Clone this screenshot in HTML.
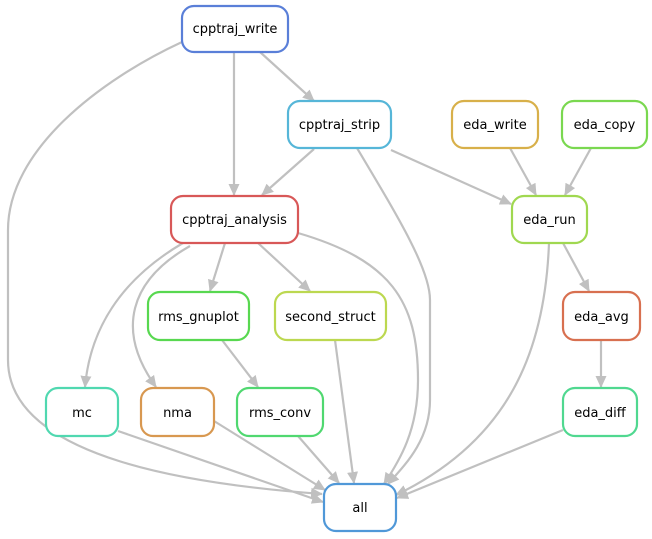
<!DOCTYPE html>
<html><head><style>html,body{margin:0;padding:0;background:#fff;width:652px;height:539px;overflow:hidden}</style></head>
<body>
<svg width="652" height="539" viewBox="0 0 652 539" xmlns="http://www.w3.org/2000/svg">
<defs><marker id="a" markerWidth="12" markerHeight="12" refX="11" refY="6" orient="auto" markerUnits="userSpaceOnUse"><path d="M0,0.5 L12,6 L0,11.5 z" fill="#c0c0c0"/></marker></defs>
<g fill="none" stroke="#c0c0c0" stroke-width="2.2" marker-end="url(#a)">
<path d="M182,42 C100,80 8,150 8,230 L8,360 C8,460 200,485 322,494"/>
<path d="M234,52 L234,195"/>
<path d="M260,52 L314,101"/>
<path d="M314,149 L262,195"/>
<path d="M357,148 C400,220 430,270 430,300 L430,400 C430,440 405,465 388,484"/>
<path d="M391,150 L511,204"/>
<path d="M510,148 L536,195"/>
<path d="M591,148 L565,195"/>
<path d="M225,243 L210,291"/>
<path d="M258,243 L310,291"/>
<path d="M183,243 C120,280 90,330 85,387"/>
<path d="M190,246 C130,280 115,330 156,387"/>
<path d="M298,233 C390,260 418,300 418,380 C418,430 400,460 384,484"/>
<path d="M222,340 L258,387"/>
<path d="M335,340 L354,483"/>
<path d="M563,243 L589,291"/>
<path d="M549,243 C545,350 510,440 396,495"/>
<path d="M601,340 L601,387"/>
<path d="M118,431 L323,502"/>
<path d="M214,421 L325,490"/>
<path d="M298,436 L339,483"/>
<path d="M563,430 L397,498"/>
</g>
<g fill="#fff" stroke-width="2.2" font-family="DejaVu Sans, sans-serif" font-size="13" text-anchor="middle">
<rect x="182" y="6" width="106" height="46" rx="12" stroke="#5a7fd8"/><text x="235" y="33" fill="#000" stroke="none">cpptraj_write</text>
<rect x="288" y="101" width="103" height="47" rx="12" stroke="#56b6d8"/><text x="339.5" y="129" fill="#000" stroke="none">cpptraj_strip</text>
<rect x="452" y="101" width="86" height="47" rx="12" stroke="#d8b04a"/><text x="495" y="129" fill="#000" stroke="none">eda_write</text>
<rect x="562" y="101" width="85" height="47" rx="12" stroke="#7ad850"/><text x="604.5" y="129" fill="#000" stroke="none">eda_copy</text>
<rect x="171" y="196" width="127" height="47" rx="12" stroke="#d85858"/><text x="234.5" y="224" fill="#000" stroke="none">cpptraj_analysis</text>
<rect x="512" y="196" width="75" height="47" rx="12" stroke="#a0d850"/><text x="549.5" y="224" fill="#000" stroke="none">eda_run</text>
<rect x="148" y="292" width="101" height="48" rx="12" stroke="#58d850"/><text x="198.5" y="321" fill="#000" stroke="none">rms_gnuplot</text>
<rect x="275" y="292" width="111" height="48" rx="12" stroke="#bcd850"/><text x="330.5" y="321" fill="#000" stroke="none">second_struct</text>
<rect x="563" y="292" width="77" height="48" rx="12" stroke="#d87050"/><text x="601.5" y="321" fill="#000" stroke="none">eda_avg</text>
<rect x="46" y="388" width="72" height="48" rx="12" stroke="#50d8b0"/><text x="82" y="417" fill="#000" stroke="none">mc</text>
<rect x="141" y="388" width="73" height="48" rx="12" stroke="#d89850"/><text x="177.5" y="417" fill="#000" stroke="none">nma</text>
<rect x="237" y="388" width="86" height="48" rx="12" stroke="#50d870"/><text x="280" y="417" fill="#000" stroke="none">rms_conv</text>
<rect x="563" y="388" width="74" height="48" rx="12" stroke="#50d890"/><text x="600" y="417" fill="#000" stroke="none">eda_diff</text>
<rect x="324" y="484" width="72" height="47" rx="12" stroke="#5098d8"/><text x="360" y="512" fill="#000" stroke="none">all</text>
</g>
</svg>
</body></html>
